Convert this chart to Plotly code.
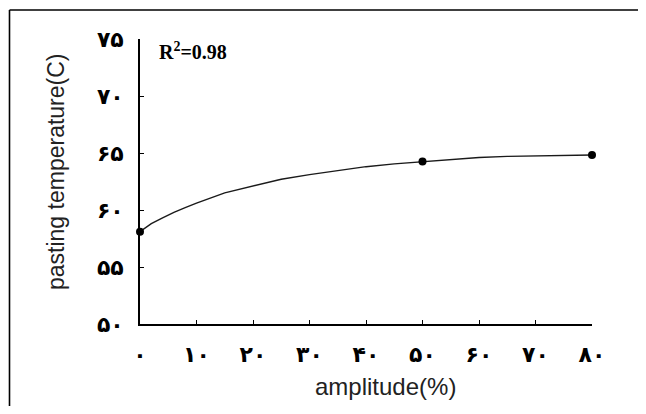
import plotly.graph_objects as go

# Measured data points
amp_points = [0, 50, 80]
temp_points = [58.1, 64.25, 64.82]

# Trend curve
curve_x = [0, 2, 4, 6, 8, 10, 15, 20, 25, 30, 35, 40, 45, 50, 55, 60, 65, 70, 75, 80]
curve_y = [58.1, 58.8, 59.3, 59.8, 60.2, 60.6, 61.5, 62.1, 62.7, 63.1, 63.45, 63.8,
           64.05, 64.25, 64.45, 64.6, 64.7, 64.75, 64.8, 64.82]

x_tickvals = [0, 10, 20, 30, 40, 50, 60, 70, 80]
x_ticktext = ["۰", "۱۰", "۲۰", "۳۰", "۴۰", "۵۰", "۶۰", "۷۰", "۸۰"]
y_tickvals = [50, 55, 60, 65, 70, 75]
y_ticktext = ["۵۰", "۵۵", "۶۰", "۶۵", "۷۰", "۷۵"]

x_title = "amplitude(%)"
y_title = "pasting temperature(C)"
r2_text = "R<sup>2</sup>=0.98"

OFF = 8  # page body margin
W, H = 646 - 2 * OFF, 414 - 2 * OFF
L, T = 140 - OFF, 39 - OFF
R = W - (592 - OFF)
B = H - (324 - OFF)
PW, PH = W - L - R, H - T - B

fig = go.Figure()
fig.add_trace(go.Scatter(x=curve_x, y=curve_y, mode="lines",
                         line=dict(color="#1a1a1a", width=1.4),
                         hoverinfo="skip", cliponaxis=False))
fig.add_trace(go.Scatter(x=amp_points, y=temp_points, mode="markers",
                         marker=dict(color="black", size=8),
                         cliponaxis=False))

tickfont = dict(family="DejaVu Sans", size=22, color="black", weight="bold")

fig.update_xaxes(range=[0, 80], tickvals=x_tickvals, ticktext=x_ticktext,
                 showgrid=False, zeroline=False, showline=True, linecolor="black",
                 linewidth=1.6, ticks="inside", ticklen=4, tickcolor="black",
                 tickwidth=1.2, tickfont=tickfont, ticklabelstandoff=10)
fig.update_yaxes(range=[50, 75], tickvals=y_tickvals, ticktext=y_ticktext,
                 showgrid=False, zeroline=False, showline=True, linecolor="black",
                 linewidth=1.6, ticks="inside", ticklen=4, tickcolor="black",
                 tickwidth=1.2, tickfont=tickfont, ticklabelstandoff=10)

def px(xp):
    return (xp - OFF - L) / PW

def py(yp):
    return (H - B - (yp - OFF)) / PH

fig.add_annotation(text=x_title, xref="paper", yref="paper", x=px(385), y=py(386),
                   showarrow=False, xanchor="center", yanchor="middle",
                   font=dict(family="Liberation Sans", size=24, color="#222"))
fig.add_annotation(text=y_title, xref="paper", yref="paper", x=px(56), y=py(172),
                   showarrow=False, xanchor="center", yanchor="middle", textangle=-90,
                   font=dict(family="Liberation Sans", size=23, color="#222"))
fig.add_annotation(text="<b>" + r2_text + "</b>", xref="paper", yref="paper",
                   x=px(157), y=py(51), showarrow=False, xanchor="left", yanchor="middle",
                   font=dict(family="Liberation Serif", size=20, color="black"))

# outer frame: only top and left edges are visible in the reference
fig.add_shape(type="line", xref="paper", yref="paper",
              x0=px(9.5), x1=px(660), y0=py(10), y1=py(10),
              line=dict(color="black", width=1.6), layer="below")
fig.add_shape(type="line", xref="paper", yref="paper",
              x0=px(9.5), x1=px(9.5), y0=py(10), y1=py(430),
              line=dict(color="black", width=1.6), layer="below")

fig.update_layout(width=W, height=H, margin=dict(l=L, r=R, t=T, b=B),
                  paper_bgcolor="white", plot_bgcolor="white", showlegend=False)

fig.write_html("out.html")
